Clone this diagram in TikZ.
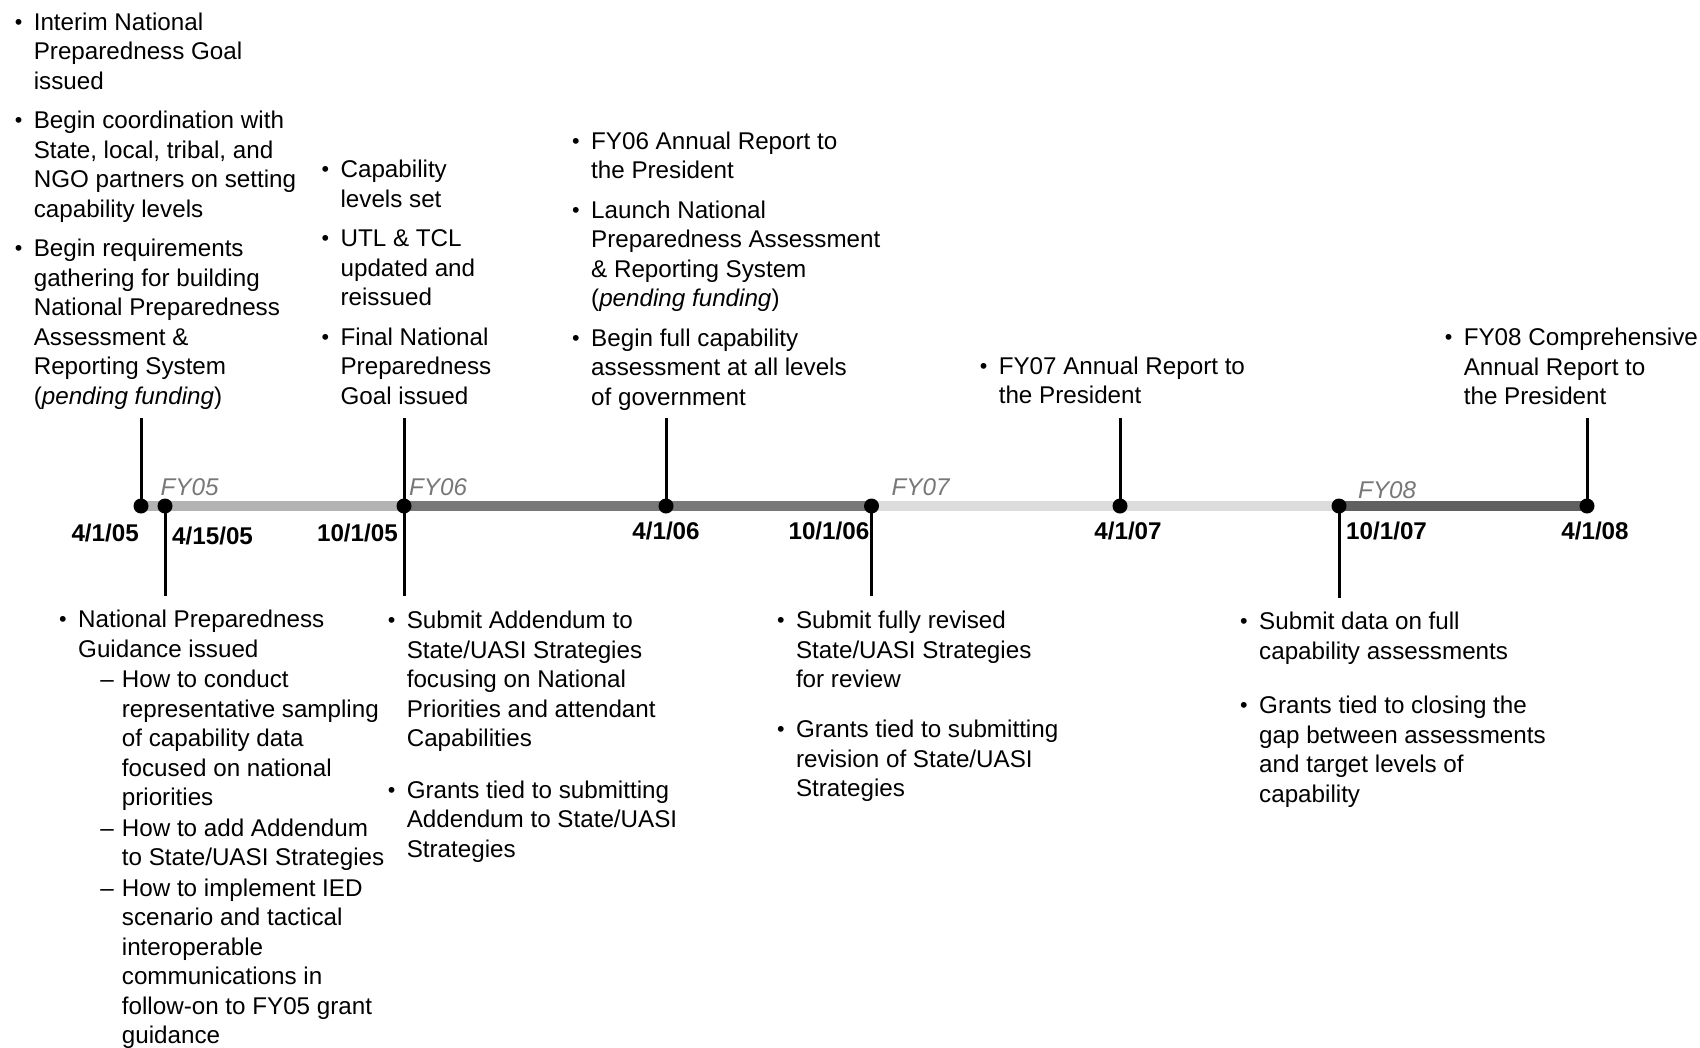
\documentclass[tikz,border=0pt]{standalone}
\usepackage{fontspec}
\setmainfont{Liberation Sans}
\usetikzlibrary{positioning}
\definecolor{cfive}{HTML}{B3B3B3}
\definecolor{csix}{HTML}{787878}
\definecolor{cseven}{HTML}{DCDCDC}
\definecolor{ceight}{HTML}{606060}
\definecolor{fygray}{HTML}{777777}
\newcommand\bul{\raisebox{1pt}{\fontsize{21.5}{21.5}\selectfont •}}
\newcommand\bi[1]{\llap{\makebox[19pt][l]{\bul}}#1}
\newcommand\sind{\hspace*{43.7pt}}
\newcommand\sdash[1]{\sind\llap{\makebox[21.5pt][l]{–}}#1}
\pgfdeclarelayer{bg}
\pgfsetlayers{bg,main}
\tikzset{
  txt/.style={inner sep=0pt, anchor=base west, font=\fontsize{24.2}{29.5}\selectfont},
  datelbl/.style={inner sep=0pt, font=\fontsize{24.2}{29}\selectfont\bfseries},
  fylbl/.style={inner sep=0pt, anchor=base west, font=\fontsize{24.2}{29}\selectfont\itshape, text=fygray},
  dotnode/.style={circle, fill=black, inner sep=0pt, minimum size=15pt},
  tickline/.style={line width=3pt, black},
  segline/.style={line width=10pt}
}
\begin{document}
\begin{tikzpicture}[x=1pt,y=-1pt]
\useasboundingbox (0,0) rectangle (1700,1047);

% timeline dots
\node[dotnode] (d1) at (141,506) {};
\node[dotnode] (d2) at (165,506) {};
\node[dotnode] (d3) at (404,506) {};
\node[dotnode] (d4) at (666,506) {};
\node[dotnode] (d5) at (871.5,506) {};
\node[dotnode] (d6) at (1120,506) {};
\node[dotnode] (d7) at (1339,506) {};
\node[dotnode] (d8) at (1587,506) {};

% tick ends
\coordinate (u1) at (141,418);
\coordinate (u3) at (404,418);
\coordinate (u4) at (666,418);
\coordinate (u6) at (1120,418);
\coordinate (u8) at (1587,418);
\coordinate (l2) at (165,596);
\coordinate (l3) at (404,596);
\coordinate (l5) at (871.5,596);
\coordinate (l7) at (1339,598);

\begin{pgfonlayer}{bg}
\draw[segline, cfive] (d1.center) -- (d3.center);
\draw[segline, csix] (d3.center) -- (d5.center);
\draw[segline, cseven] (d5.center) -- (d7.center);
\draw[segline, ceight] (d7.center) -- (d8.center);
\draw[tickline] (d1.center) -- (u1);
\draw[tickline] (d3.center) -- (u3);
\draw[tickline] (d4.center) -- (u4);
\draw[tickline] (d6.center) -- (u6);
\draw[tickline] (d8.center) -- (u8);
\draw[tickline] (d2.center) -- (l2);
\draw[tickline] (d3.center) -- (l3);
\draw[tickline] (d5.center) -- (l5);
\draw[tickline] (d7.center) -- (l7);
\end{pgfonlayer}

% fiscal year labels
\node[fylbl] (fy5) at (160.5,495.5) {FY05};
\node[fylbl] (fy6) at (409,495.5) {FY06};
\node[fylbl] (fy7) at (891.5,495.5) {FY07};
\node[fylbl] (fy8) at (1358,498.7) {FY08};

% dates
\node[datelbl, anchor=base east] (t1) at (139,541) {4/1/05};
\node[datelbl, anchor=base west] (t2) at (172,544) {4/15/05};
\node[datelbl, anchor=base east] (t3) at (398,541) {10/1/05};
\node[datelbl, anchor=base] (t4) at (666,539) {4/1/06};
\node[datelbl, anchor=base east] (t5) at (869.5,539) {10/1/06};
\node[datelbl, anchor=base] (t6) at (1128,539) {4/1/07};
\node[datelbl, anchor=base west] (t7) at (1346,539) {10/1/07};
\node[datelbl, anchor=base] (t8) at (1595,539) {4/1/08};

% top text blocks
\node[txt] (A) at (33.6,404) {\begin{tabular}[b]{@{}l@{}}
\bi{Interim National}\\
Preparedness Goal\\
issued\\[10pt]
\bi{Begin coordination with}\\
State, local, tribal, and\\
NGO partners on setting\\
capability levels\\[10pt]
\bi{Begin requirements}\\
gathering for building\\
National Preparedness\\
Assessment \&\\
Reporting System\\
(\textit{pending funding})
\end{tabular}};

\node[txt] (B) at (340.4,404) {\begin{tabular}[b]{@{}l@{}}
\bi{Capability}\\
levels set\\[10pt]
\bi{UTL \& TCL}\\
updated and\\
reissued\\[10pt]
\bi{Final National}\\
Preparedness\\
Goal issued
\end{tabular}};

\node[txt] (C) at (591,405) {\begin{tabular}[b]{@{}l@{}}
\bi{FY06 Annual Report to}\\
the President\\[10pt]
\bi{Launch National}\\
Preparedness Assessment\\
\& Reporting System\\
(\textit{pending funding})\\[10pt]
\bi{Begin full capability}\\
assessment at all levels\\
of government
\end{tabular}};

\node[txt] (D) at (998.6,403.5) {\begin{tabular}[b]{@{}l@{}}
\bi{FY07 Annual Report to}\\
the President
\end{tabular}};

\node[txt] (E) at (1463.6,404.5) {\begin{tabular}[b]{@{}l@{}}
\bi{FY08 Comprehensive}\\
Annual Report to\\
the President
\end{tabular}};

% bottom text blocks
\node[txt] (F) at (78,627.6) {\begin{tabular}[t]{@{}l@{}}
\bi{National Preparedness}\\
Guidance issued\\[1pt]
\sdash{How to conduct}\\
\sind representative sampling\\
\sind of capability data\\
\sind focused on national\\
\sind priorities\\[1pt]
\sdash{How to add Addendum}\\
\sind to State/UASI Strategies\\[1pt]
\sdash{How to implement IED}\\
\sind scenario and tactical\\
\sind interoperable\\
\sind communications in\\
\sind follow-on to FY05 grant\\
\sind guidance
\end{tabular}};

\node[txt] (G) at (406.6,628.7) {\begin{tabular}[t]{@{}l@{}}
\bi{Submit Addendum to}\\
State/UASI Strategies\\
focusing on National\\
Priorities and attendant\\
Capabilities\\[22pt]
\bi{Grants tied to submitting}\\
Addendum to State/UASI\\
Strategies
\end{tabular}};

\node[txt] (H) at (795.8,628.7) {\begin{tabular}[t]{@{}l@{}}
\bi{Submit fully revised}\\
State/UASI Strategies\\
for review\\[20.5pt]
\bi{Grants tied to submitting}\\
revision of State/UASI\\
Strategies
\end{tabular}};

\node[txt] (I) at (1259,629.7) {\begin{tabular}[t]{@{}l@{}}
\bi{Submit data on full}\\
capability assessments\\[25pt]
\bi{Grants tied to closing the}\\
gap between assessments\\
and target levels of\\
capability
\end{tabular}};
\end{tikzpicture}
\end{document}
